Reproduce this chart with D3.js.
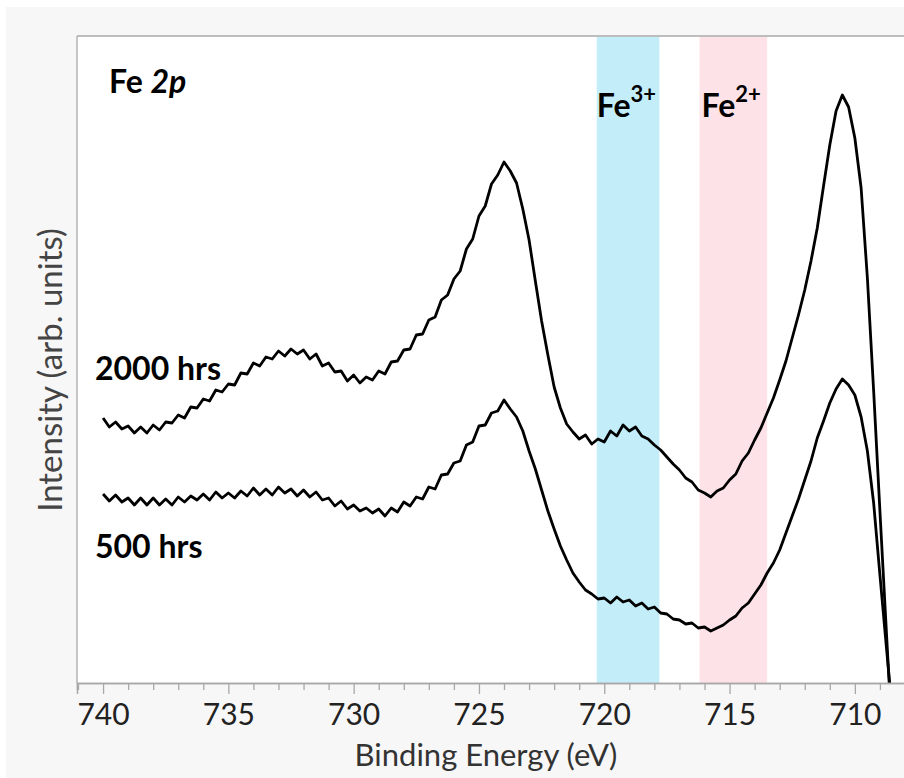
<!DOCTYPE html>
<html>
<head>
<meta charset="utf-8">
<script src="https://cdn.jsdelivr.net/npm/d3@7"></script>
<style>
  body { margin: 0; background: #ffffff; }
  .tick text { font-family: Lato, "Noto Sans", sans-serif; }
</style>
</head>
<body>
<div id="chart"></div>
<script>
// Fe 2p spectra, energies sampled every 0.25 eV from 740 down to 708.5
var energies = d3.range(740, 708.49, -0.25);

// 2000 hrs (upper trace)
var hrs2000 = [
  265, 256, 261, 254,  257, 250, 256, 250,  258, 253, 261, 260,  268, 265, 276, 275,
  284, 282, 293, 291,  299, 298, 310, 309,  320, 317, 326, 324,  332, 327, 334, 329,
  333, 324, 329, 317,  320, 311, 312, 302,  308, 300, 306, 303,  312, 309, 321, 322,
  333, 334, 348, 349,  363, 366, 383, 388,  404, 412, 434, 444,  467, 477, 499, 508,
  521, 512, 500, 474,  443, 402, 362, 328,  296, 275, 259, 251,  244, 248, 239, 244,
  241, 252, 247, 258,  252, 256, 247, 244,  238, 233, 226, 219,  213, 205, 201, 193,
  190, 186, 192, 195,  203, 209, 222, 230,  243, 255, 270, 285,  303, 322, 345, 368,
  393, 422, 455, 497,  538, 572, 588, 576,  545, 495, 405, 292,  172, 55, -60
];

// 500 hrs (lower trace)
var hrs500 = [
  189, 182, 188, 181,  185, 178, 185, 178,  185, 178, 184, 178,  186, 181, 187, 183,
  189, 183, 191, 185,  190, 185, 192, 187,  195, 188, 194, 188,  196, 190, 194, 187,
  193, 186, 191, 183,  185, 177, 182, 174,  178, 172, 175, 170,  174, 167, 175, 171,
  181, 177, 186, 184,  196, 194, 208, 209,  220, 222, 238, 241,  257, 258, 270, 272,
  283, 274, 266, 252,  232, 214, 193, 172,  154, 137, 123, 110,  101, 93, 89, 84,
  85, 80, 86, 81,  83, 77, 80, 74,  76, 70, 69, 64,  63, 59, 60, 55,
  56, 52, 55, 58,  63, 67, 75, 80,  89, 98, 110, 120,  133, 150, 167, 184,
  203, 222, 245, 262,  280, 294, 304, 298,  288, 266, 232, 180,  108, 38, -30
];

var seriesNames = ["2000 hrs", "500 hrs"];
var bandRanges = [[720.3, 717.8], [716.2, 713.5]];
var bandNames = ["3+", "2+"];
var bandColors = ["#c3eef9", "#fde3e8"];
var xTicks = [740, 735, 730, 725, 720, 715, 710];

//svg dimensions
var svgWidth = 904;
var svgHeight = 778;

var plot = { left: 77, top: 36, right: 915, bottom: 683 };

var svg = d3.select("#chart").append("svg")
    .attr("width", svgWidth)
    .attr("height", svgHeight);

// grey panel behind everything
svg.append("rect")
    .attr("x", 6).attr("y", 7)
    .attr("width", svgWidth).attr("height", svgHeight)
    .attr("fill", "#f7f7f7");

var x = d3.scaleLinear()
    .domain([741.04, 707.6])
    .range([plot.left, plot.right]);

var y = d3.scaleLinear()
    .domain([0, 647])
    .range([plot.bottom, plot.top]);

// plot area
svg.append("rect")
    .attr("x", plot.left).attr("y", plot.top)
    .attr("width", plot.right - plot.left).attr("height", plot.bottom - plot.top)
    .attr("fill", "#ffffff");

svg.append("clipPath").attr("id", "clip")
  .append("rect")
    .attr("x", plot.left).attr("y", plot.top)
    .attr("width", plot.right - plot.left).attr("height", plot.bottom - plot.top);

var inner = svg.append("g").attr("clip-path", "url(#clip)");

// Fe3+ / Fe2+ bands
inner.selectAll(".band")
    .data(bandRanges)
    .enter()
    .append("rect")
    .attr("class", "band")
    .attr("x", d => x(d[0]))
    .attr("width", d => x(d[1]) - x(d[0]))
    .attr("y", plot.top)
    .attr("height", plot.bottom - plot.top)
    .attr("fill", (d, i) => bandColors[i]);

var line = d3.line()
    .x((d, i) => x(energies[i]))
    .y(d => y(d));

inner.selectAll(".trace")
    .data([hrs2000, hrs500])
    .enter()
    .append("path")
    .attr("class", "trace")
    .attr("d", d => line(d))
    .attr("fill", "none")
    .attr("stroke", "#000")
    .attr("stroke-width", 2.8)
    .attr("stroke-linejoin", "round");

// frame: top and left borders
svg.append("line")
    .attr("x1", plot.left).attr("x2", svgWidth)
    .attr("y1", plot.top).attr("y2", plot.top)
    .attr("stroke", "#bdbdbd").attr("stroke-width", 2);
svg.append("line")
    .attr("x1", plot.left).attr("x2", plot.left)
    .attr("y1", plot.top).attr("y2", plot.bottom)
    .attr("stroke", "#b5b5b5").attr("stroke-width", 1.5);

// minor ticks every 1 eV
var minorAxis = d3.axisBottom(x)
    .tickValues(d3.range(741, 707, -1).filter(v => v % 5 !== 0))
    .tickSize(7)
    .tickFormat("");

var majorAxis = d3.axisBottom(x)
    .tickValues(xTicks)
    .tickSize(11)
    .tickPadding(10)
    .tickFormat(d3.format("d"));

var gMinor = svg.append("g")
    .attr("transform", `translate(0, ${plot.bottom})`)
    .call(minorAxis);

var gMajor = svg.append("g")
    .attr("transform", `translate(0, ${plot.bottom})`)
    .call(majorAxis);

[gMinor, gMajor].forEach(function (g) {
    g.select(".domain").attr("stroke", "#a8a8a8").attr("stroke-width", 1.5);
    g.selectAll(".tick line").attr("stroke", "#a8a8a8").attr("stroke-width", 1.3);
});

gMajor.selectAll(".tick text")
    .attr("font-size", "30px")
    .attr("fill", "#222");

// axis titles
svg.append("text")
    .attr("x", 486)
    .attr("y", 766)
    .attr("text-anchor", "middle")
    .attr("font-family", "Lato, 'Noto Sans', sans-serif")
    .attr("font-size", "31px")
    .attr("fill", "#333")
    .text("Binding Energy (eV)");

svg.append("text")
    .attr("transform", "translate(62, 370) rotate(-90)")
    .attr("text-anchor", "middle")
    .attr("font-family", "Lato, 'Noto Sans', sans-serif")
    .attr("font-size", "33px")
    .attr("fill", "#444")
    .text("Intensity (arb. units)");

// annotations
var boldFont = "Lato, 'Noto Sans', sans-serif";

var title = svg.append("text")
    .attr("x", 109)
    .attr("y", 93)
    .attr("font-family", boldFont)
    .attr("font-weight", "bold")
    .attr("font-size", "32px")
    .attr("fill", "#000");
title.append("tspan").text("Fe ");
title.append("tspan").attr("font-style", "italic").text("2p");

svg.selectAll(".bandLabel")
    .data(bandRanges)
    .enter()
    .append("text")
    .attr("class", "bandLabel")
    .attr("x", (d, i) => x(d[0]) + (i === 0 ? 0 : 2))
    .attr("y", 117)
    .attr("font-family", boldFont)
    .attr("font-weight", "bold")
    .attr("font-size", "32px")
    .attr("fill", "#000")
    .each(function (d, i) {
        var t = d3.select(this);
        t.append("tspan").text("Fe");
        t.append("tspan")
            .attr("font-size", "22px")
            .attr("dy", -15)
            .text(bandNames[i]);
    });

svg.selectAll(".seriesLabel")
    .data(seriesNames)
    .enter()
    .append("text")
    .attr("class", "seriesLabel")
    .attr("x", 95)
    .attr("y", (d, i) => i === 0 ? 380 : 558)
    .attr("font-family", boldFont)
    .attr("font-weight", "bold")
    .attr("font-size", "32px")
    .attr("fill", "#000")
    .text(d => d);
</script>
</body>
</html>
